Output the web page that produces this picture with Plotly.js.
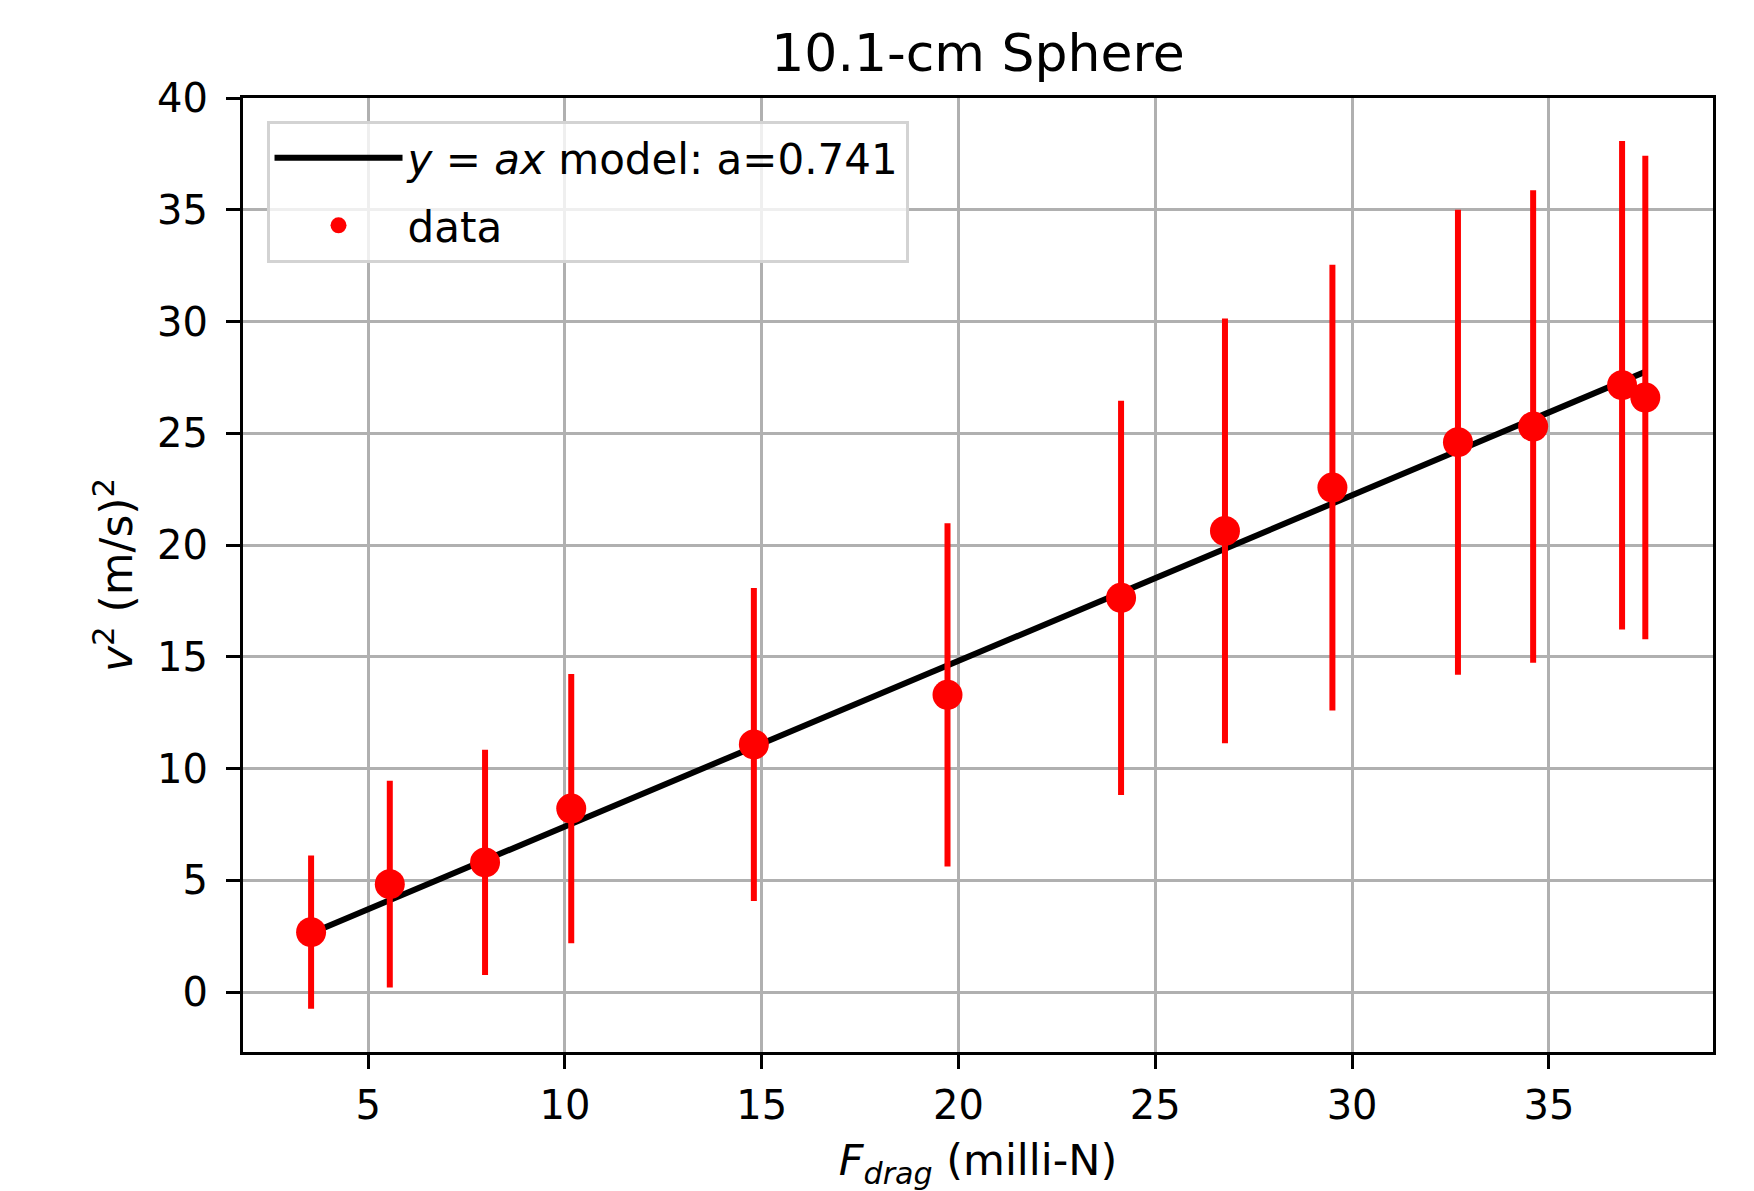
<!DOCTYPE html>
<html>
<head>
<meta charset="utf-8">
<script src="https://cdn.plot.ly/plotly-3.0.1.min.js"></script>
<style>html,body{margin:0;padding:0;background:#fff;}#chart{width:1754px;height:1191px;}</style>
</head>
<body>
<div id="chart"></div>
<script>
// Data
const fDrag = [3.55, 5.55, 7.97, 10.16, 14.80, 19.72, 24.13, 26.77, 29.50, 32.69, 34.60, 36.86, 37.45];
const vSquared = [2.68, 4.83, 5.80, 8.21, 11.08, 13.30, 17.64, 20.63, 22.57, 24.60, 25.30, 27.15, 26.60];
const vSquaredErr = [3.43, 4.62, 5.04, 6.02, 7.00, 7.68, 8.82, 9.50, 9.97, 10.40, 10.57, 10.93, 10.82];
// Fit model y = a x, a = 0.741 (line endpoints)
const fitA = 0.741;
const fitX = [3.55, 37.45];
const fitY = [2.63, 27.75];

const font = "DejaVu Sans, Liberation Sans, sans-serif";

const traces = [
  {
    x: fitX, y: fitY, type: 'scatter', mode: 'lines',
    line: {color: '#000000', width: 6},
    name: '<i>y</i> = <i>ax</i> model: a=' + fitA.toFixed(3),
    legendgroup: 'fit'
  },
  {
    x: fDrag, y: vSquared, type: 'scatter', mode: 'markers',
    marker: {color: '#ff0000', size: 30},
    error_y: {type: 'data', array: vSquaredErr, visible: true, color: '#ff0000', thickness: 6, width: 0},
    name: 'data',
    legendgroup: 'data'
  }
];

const axisCommon = {
  showgrid: true, gridcolor: '#b0b0b0', gridwidth: 3,
  showline: true, linecolor: '#000000', linewidth: 3, mirror: true,
  ticks: 'outside', ticklen: 14, tickwidth: 3, tickcolor: '#000000',
  zeroline: false,
  tickfont: {family: font, size: 40, color: '#000000'}
};

const layout = {
  width: 1754, height: 1191,
  paper_bgcolor: '#ffffff', plot_bgcolor: '#ffffff',
  margin: {l: 243, r: 41, t: 98, b: 139},
  font: {family: font, color: '#000000'},
  title: {
    text: '10.1-cm Sphere', font: {family: font, size: 52, color: '#000000'},
    x: 0.5, xref: 'paper', y: 1 - 53 / 1191, yref: 'container', yanchor: 'middle'
  },
  xaxis: Object.assign({}, axisCommon, {
    range: [1.82, 39.17], tickmode: 'array', tickvals: [5, 10, 15, 20, 25, 30, 35],
    ticklabelstandoff: 2,
    title: {text: '<i>F<sub>drag</sub></i> (milli-N)', font: {family: font, size: 43, color: '#000000'}, standoff: 18}
  }),
  yaxis: Object.assign({}, axisCommon, {
    range: [-2.68, 40.0], tickmode: 'array', tickvals: [0, 5, 10, 15, 20, 25, 30, 35, 40],
    ticklabelstandoff: 10,
    title: {text: '<i>v</i><sup>2</sup> (m/s)<sup>2</sup>', font: {family: font, size: 44, color: '#000000'}, standoff: 11}
  }),
  showlegend: true,
  legend: {
    x: 0.016, y: 0.976, xanchor: 'left', yanchor: 'top',
    bgcolor: 'rgba(255,255,255,0.8)', bordercolor: '#d3d3d3', borderwidth: 3,
    font: {family: font, size: 42, color: '#000000'},
    traceorder: 'grouped', tracegroupgap: 10, itemwidth: 128
  }
};

Plotly.newPlot('chart', traces, layout, {displayModeBar: false, staticPlot: true});
</script>
</body>
</html>
